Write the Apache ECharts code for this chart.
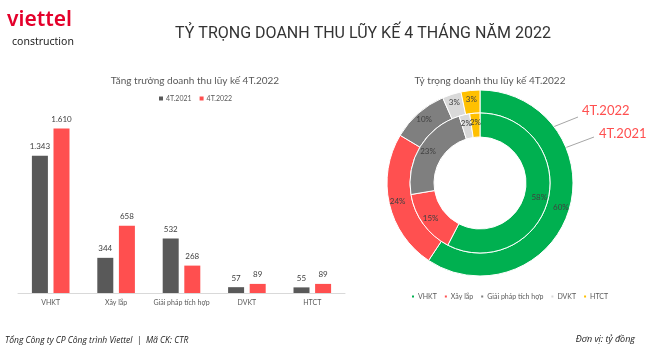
<!DOCTYPE html>
<html>
<head>
<meta charset="utf-8">
<script src="https://cdn.jsdelivr.net/npm/echarts@6/dist/echarts.min.js"></script>
<style>
html,body{margin:0;padding:0;background:#fff;}
#main{width:650px;height:354px;}
</style>
</head>
<body>
<div id="main"></div>
<script>
// du lieu doanh thu (ty dong)
var categories = ["VHKT", "Xây lắp", "Giải pháp tích hợp", "DVKT", "HTCT"];
var rev2021 = [1343, 344, 532, 57, 55];
var rev2022 = [1610, 658, 268, 89, 89];
var seriesNames = ["4T.2021", "4T.2022"];
var pieColors = ["#00B050", "#FF5050", "#7F7F7F", "#D9D9D9", "#FFC000"];

function fmtNum(v) {
	return String(v).replace(/\B(?=(\d{3})+(?!\d))/g, ".");
}
function pieData(vals) {
	var out = [];
	for (var i = 0; i < categories.length; i++) {
		out.push({name: categories[i], value: vals[i], itemStyle: {color: pieColors[i]}});
	}
	return out;
}

var chart = echarts.init(document.getElementById('main'));
var font = "Lato, 'Noto Sans', sans-serif";
var option = {
	animation: false,
	textStyle: {fontFamily: font},
	title: [
		{text: "TỶ TRỌNG DOANH THU LŨY KẾ 4 THÁNG NĂM 2022", left: 358, top: 21, textAlign: 'center',
			textStyle: {fontFamily: "Roboto, sans-serif", fontSize: 16, fontWeight: 'normal', color: '#333'}},
		{text: "Tăng trưởng doanh thu lũy kế 4T.2022", left: 190, top: 71, textAlign: 'center',
			textStyle: {fontSize: 10, fontWeight: 'normal', color: '#595959'}},
		{text: "Tỷ trọng doanh thu lũy kế 4T.2022", left: 485, top: 71, textAlign: 'center',
			textStyle: {fontSize: 10, fontWeight: 'normal', color: '#595959'}}
	],
	legend: [
		{data: seriesNames, left: 154, top: 90, width: 120, icon: 'rect', itemWidth: 4, itemHeight: 4, itemGap: 8,
			textStyle: {fontSize: 7, color: '#595959', padding: [0, 0, 0, -2]}},
		{data: categories, left: 405, top: 288, width: 220, icon: 'rect', itemWidth: 4, itemHeight: 4, itemGap: 6,
			textStyle: {fontSize: 7, color: '#595959', padding: [0, 0, 0, -2]}}
	],
	grid: {left: 18, right: 305, top: 109, bottom: 61},
	xAxis: {
		type: 'category', data: categories,
		axisLine: {lineStyle: {color: '#D9D9D9'}},
		axisTick: {show: false},
		axisLabel: {fontSize: 7, color: '#595959', margin: 6, interval: 0}
	},
	yAxis: {type: 'value', min: 0, max: 1800, show: false, splitLine: {show: false}},
	series: [
		{name: seriesNames[0], type: 'bar', data: rev2021, barWidth: 16, barGap: '35%',
			itemStyle: {color: '#595959'},
			label: {show: true, position: 'top', fontSize: 8, color: '#404040', distance: 5,
				formatter: function(p){ return fmtNum(p.value); }}},
		{name: seriesNames[1], type: 'bar', data: rev2022, barWidth: 16,
			itemStyle: {color: '#FF4F4F'},
			label: {show: true, position: 'top', fontSize: 8, color: '#404040', distance: 5,
				formatter: function(p){ return fmtNum(p.value); }}},
		{name: '4T.2022', type: 'pie', center: [480, 183], radius: [70, 93],
			startAngle: 90, percentPrecision: 0,
			itemStyle: {borderColor: '#fff', borderWidth: 1},
			label: {show: true, position: 'inside', formatter: '{d}%', fontSize: 8, color: '#404040'},
			labelLine: {show: false},
			labelLayout: {hideOverlap: false},
			data: pieData(rev2022)},
		{name: '4T.2021', type: 'pie', center: [480, 183], radius: [46, 70],
			startAngle: 90, percentPrecision: 0,
			itemStyle: {borderColor: '#fff', borderWidth: 1},
			label: {show: true, position: 'inside', formatter: '{d}%', fontSize: 8, color: '#404040'},
			labelLine: {show: false},
			labelLayout: {hideOverlap: false},
			data: pieData(rev2021)}
	],
	graphic: [
		{type: 'text', left: 7, top: 10, style: {text: 'viettel', fill: '#E4002B', font: "600 21px 'Noto Sans', sans-serif"}},
		{type: 'text', left: 12, top: 37, style: {text: 'construction', fill: '#222', font: "10.5px 'Noto Sans', sans-serif"}},
		{type: 'text', left: 5, top: 336, style: {text: 'Tổng Công ty CP Công trình Viettel  |  Mã CK: CTR', fill: '#222', font: "italic 8.5px 'Open Sans', sans-serif"}},
		{type: 'text', right: 15, top: 335, style: {text: 'Đơn vị: tỷ đồng', fill: '#222', font: "italic 9px 'Open Sans', sans-serif"}},
		{type: 'text', left: 582, top: 104, style: {text: '4T.2022', fill: '#FF4F4F', font: "13px 'Lato', sans-serif"}},
		{type: 'text', left: 599, top: 127, style: {text: '4T.2021', fill: '#FF4F4F', font: "13px 'Lato', sans-serif"}},
		{type: 'line', shape: {x1: 578, y1: 117, x2: 543, y2: 131}, style: {stroke: '#A6A6A6', lineWidth: 1}},
		{type: 'polygon', shape: {points: [[540, 132], [545, 128], [546, 132.5]]}, style: {fill: '#A6A6A6'}},
		{type: 'line', shape: {x1: 594, y1: 137, x2: 538, y2: 158}, style: {stroke: '#A6A6A6', lineWidth: 1}},
		{type: 'polygon', shape: {points: [[535, 159], [540, 155], [541, 159.5]]}, style: {fill: '#A6A6A6'}}
	]
};
chart.setOption(option);
</script>
</body>
</html>
